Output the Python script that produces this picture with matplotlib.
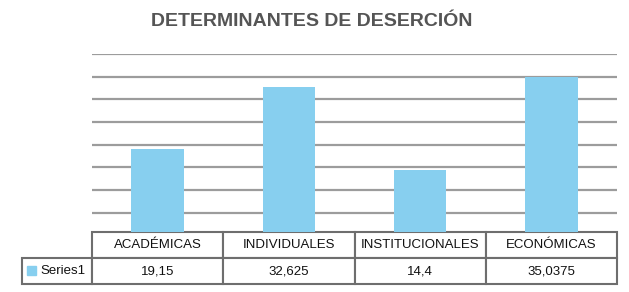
import matplotlib
matplotlib.use("Agg")
import matplotlib.pyplot as plt
from matplotlib.patches import Rectangle

categories = ["ACADÉMICAS", "INDIVIDUALES", "INSTITUCIONALES", "ECONÓMICAS"]
values = [19.15, 32.625, 14.4, 35.0375]
value_labels = ["19,15", "32,625", "14,4", "35,0375"]
series_name = "Series1"

BAR_COLOR = "#87cfef"
GRID_COLOR = "#9c9c9c"
EDGE_COLOR = "#6e6e6e"

plt.rcParams["font.family"] = ["Liberation Sans", "DejaVu Sans"]

fig = plt.figure(figsize=(6.29, 2.92), dpi=100)
# axes placed in pixels: x 92..617, y 54..232 (top-origin)
ax = fig.add_axes([92 / 629, 60 / 292, 525 / 629, 178 / 292])

x = range(len(categories))
ax.bar(x, values, width=0.4, color=BAR_COLOR, zorder=2)
ax.set_xlim(-0.5, len(categories) - 0.5)
# the zero line sits just under the table top in the original
ax.set_ylim(0.75, 40)
ax.set_yticks(range(5, 41, 5))
ax.yaxis.grid(True, color=GRID_COLOR, linewidth=1.6, zorder=0)
ax.set_xticks([])
ax.tick_params(axis="y", length=0, labelleft=False)
for s in ax.spines.values():
    s.set_visible(False)

# data table under the bars, with an empty corner cell
label_w = 70 / 525
col_w = 1 / len(categories)
tbl = ax.table(
    cellText=[[series_name] + value_labels],
    colLabels=[""] + categories,
    colWidths=[label_w] + [col_w] * len(categories),
    cellLoc="center",
    bbox=[-label_w, -52 / 178, 1 + label_w, 52 / 178],
)
tbl.auto_set_font_size(False)
for (r, c), cell in tbl.get_celld().items():
    cell.set_edgecolor(EDGE_COLOR)
    cell.set_linewidth(1.5)
    cell.get_text().set_fontsize(9.5)
    cell.get_text().set_color("#111111")
    if r == 0 and c == 0:
        cell.visible_edges = ""
    if r == 1 and c == 0:
        cell.get_text().set_ha("left")
        cell.PAD = 0.26

# legend key in the row label cell
ax.add_patch(Rectangle((-label_w + 4.5 / 525, -43 / 178), 9 / 525, 9 / 178,
                       transform=ax.transAxes, color=BAR_COLOR, clip_on=False,
                       zorder=5))

fig.text(312 / 629, 1 - 21.5 / 292, "DETERMINANTES DE DESERCIÓN",
         ha="center", va="center", fontsize=14, fontweight="bold",
         color="#555555")

fig.savefig("out.png", dpi=100)
